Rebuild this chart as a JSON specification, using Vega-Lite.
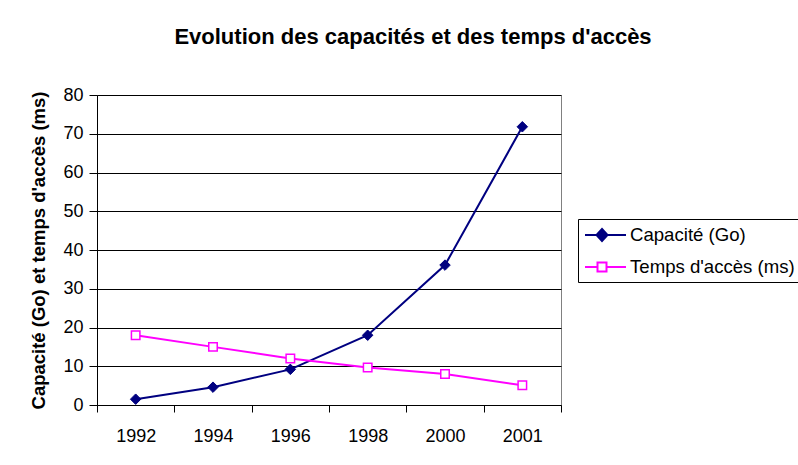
{
  "$schema": "https://vega.github.io/schema/vega-lite/v6.json",
  "width": 464,
  "height": 310,
  "autosize": {"type": "none"},
  "padding": {"left": 97, "top": 95, "right": 237, "bottom": 60},
  "background": "white",
  "title": {
    "text": "Evolution des capacités et des temps d'accès",
    "font": "Liberation Sans",
    "fontSize": 22,
    "fontWeight": "bold",
    "color": "black",
    "anchor": "middle",
    "frame": "group",
    "dx": 84,
    "offset": 37
  },
  "data": {
    "values": [
      {"year": "1992", "series": "Capacité (Go)", "value": 1.5},
      {"year": "1994", "series": "Capacité (Go)", "value": 4.6},
      {"year": "1996", "series": "Capacité (Go)", "value": 9.2},
      {"year": "1998", "series": "Capacité (Go)", "value": 18},
      {"year": "2000", "series": "Capacité (Go)", "value": 36.1},
      {"year": "2001", "series": "Capacité (Go)", "value": 71.8},
      {"year": "1992", "series": "Temps d'accès (ms)", "value": 18},
      {"year": "1994", "series": "Temps d'accès (ms)", "value": 15},
      {"year": "1996", "series": "Temps d'accès (ms)", "value": 12},
      {"year": "1998", "series": "Temps d'accès (ms)", "value": 9.7},
      {"year": "2000", "series": "Temps d'accès (ms)", "value": 8},
      {"year": "2001", "series": "Temps d'accès (ms)", "value": 5.1}
    ]
  },
  "encoding": {
    "x": {
      "field": "year",
      "type": "ordinal",
      "sort": null,
      "scale": {"type": "band", "paddingInner": 0, "paddingOuter": 0},
      "axis": {
        "title": null,
        "labelAngle": 0,
        "tickBand": "extent",
        "tickSize": 7,
        "labelPadding": 15,
        "grid": false
      }
    },
    "y": {
      "field": "value",
      "type": "quantitative",
      "scale": {"domain": [0, 80], "nice": false},
      "axis": {
        "values": [0, 10, 20, 30, 40, 50, 60, 70, 80],
        "title": "Capacité (Go) et temps d'accès (ms)",
        "titleFont": "Liberation Sans",
        "titleFontSize": 18.5,
        "titleFontWeight": "bold",
        "titleColor": "black",
        "titleAngle": -90,
        "titleX": -59,
        "titleY": 155,
        "titleAlign": "center",
        "titleBaseline": "middle",
        "tickSize": 8,
        "labelPadding": 6,
        "grid": true,
        "gridColor": "black",
        "gridWidth": 1,
        "gridOpacity": 1
      }
    }
  },
  "layer": [
    {
      "mark": {"type": "point", "filled": true, "opacity": 1, "strokeWidth": 2, "size": 0},
      "encoding": {
        "stroke": {
          "field": "series",
          "type": "nominal",
          "scale": {"domain": ["Capacité (Go)", "Temps d'accès (ms)"], "range": ["#000080", "#ff00ff"]},
          "legend": {"title": null, "symbolSize": 400}
        },
        "fill": {
          "field": "series",
          "type": "nominal",
          "scale": {"domain": ["Capacité (Go)", "Temps d'accès (ms)"], "range": ["#000080", "#ffffff"]},
          "legend": {"title": null, "symbolSize": 400}
        },
        "shape": {
          "field": "series",
          "type": "nominal",
          "scale": {
            "domain": ["Capacité (Go)", "Temps d'accès (ms)"],
            "range": [
              "M-0.9,0H3.2M0.8,-0.6L1.35,0L0.8,0.6L0.25,0Z",
              "M-0.9,0H0.35M1.25,0H3.2M0.35,-0.45H1.25V0.45H0.35Z"
            ]
          },
          "legend": {"title": null, "symbolSize": 400}
        }
      }
    },
    {
      "mark": {"type": "line", "strokeWidth": 2},
      "encoding": {
        "stroke": {
          "field": "series",
          "type": "nominal",
          "legend": null
        }
      }
    },
    {
      "transform": [{"filter": "datum.series === 'Capacité (Go)'"}],
      "mark": {"type": "point", "shape": "diamond", "size": 110, "filled": true, "fill": "#000080", "stroke": "#000080", "strokeWidth": 1, "opacity": 1}
    },
    {
      "transform": [{"filter": "datum.series === 'Temps d\\'accès (ms)'"}],
      "mark": {"type": "point", "shape": "square", "size": 72, "filled": false, "fill": "#ffffff", "stroke": "#ff00ff", "strokeWidth": 1.5, "opacity": 1}
    }
  ],
  "config": {
    "font": "Liberation Sans",
    "view": {"stroke": "#808080", "strokeWidth": 1},
    "axis": {
      "labelFont": "Liberation Sans",
      "labelFontSize": 18,
      "labelColor": "black",
      "domainColor": "black",
      "domainWidth": 1,
      "tickColor": "black",
      "tickWidth": 1
    },
    "legend": {
      "orient": "none",
      "legendX": 481,
      "legendY": 124,
      "strokeColor": "black",
      "fillColor": "white",
      "padding": 5,
      "rowPadding": 11,
      "symbolSize": 400,
      "symbolStrokeWidth": 2,
      "labelOffset": 25,
      "labelFont": "Liberation Sans",
      "labelFontSize": 18.6,
      "labelColor": "black",
      "labelLimit": 400
    }
  }
}
